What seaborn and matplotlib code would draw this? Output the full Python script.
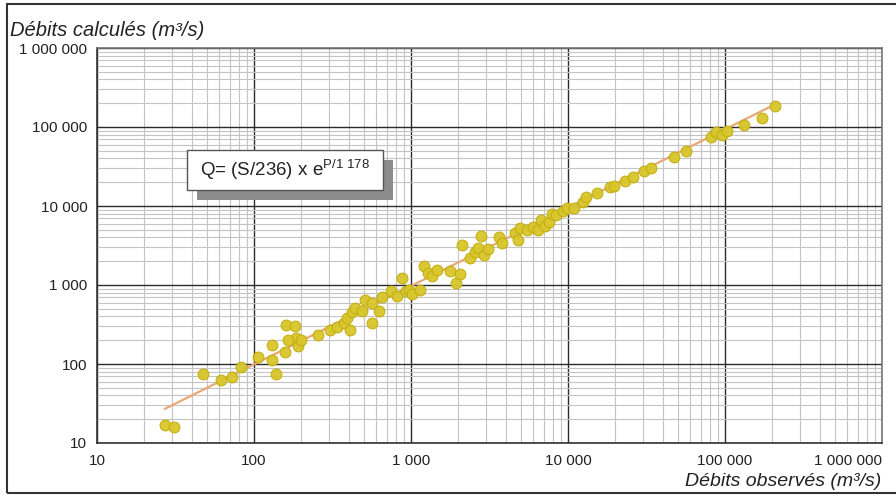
import matplotlib
matplotlib.use("Agg")
import matplotlib.pyplot as plt
from matplotlib.ticker import FixedLocator, LogLocator, NullFormatter
from matplotlib.patches import Rectangle
import seaborn as sns
import pandas as pd

observed = [27, 31, 47, 62, 72, 83, 106, 130, 138, 130, 157, 160, 182, 185, 191, 199, 165,
            256, 305, 338, 374, 391, 409, 421, 440, 487, 509, 564, 564, 654, 625, 746, 815,
            877, 929, 971, 1015, 1140, 1210, 1283, 1360, 1465, 1770, 1935, 2050, 2110, 2375,
            2555, 2670, 2795, 2920, 3095, 3635, 3800, 4600, 4800, 4950, 5480, 5990, 6440,
            6730, 7140, 7570, 7910, 8390, 9290, 9860, 10900, 12470, 13030, 15300, 18500,
            19600, 23100, 25900, 30500, 33800, 47400, 56400, 81500, 87700, 95700, 103000,
            132000, 172000, 208000]
computed = [17, 16, 75, 62, 68, 92, 123, 112, 75, 174, 142, 312, 303, 213, 169, 202, 201,
            233, 269, 294, 330, 382, 269, 455, 511, 469, 646, 591, 330, 705, 469, 840, 726,
            1227, 840, 865, 770, 865, 1740, 1420, 1300, 1550, 1500, 1060, 1380, 3200, 2200,
            2620, 2940, 4170, 2400, 2855, 4050, 3400, 4550, 3720, 5270, 4970, 5420, 4970,
            6650, 5580, 6270, 7920, 7690, 8650, 9300, 9440, 11250, 13000, 14600, 17400,
            17900, 20700, 23300, 27700, 30300, 41700, 49700, 74700, 86400, 79200, 89000,
            106000, 130000, 184000]

# Fitted relation line end points
fit_x = [27, 210000]
fit_y = [27, 195000]

tick_values = [10, 100, 1000, 10000, 100000, 1000000]
tick_labels = ["10", "100", "1 000", "10 000", "100 000", "1 000 000"]

sns.set_style("white")
plt.rcParams['font.family'] = ['Liberation Sans Narrow', 'Liberation Sans', 'DejaVu Sans']

fig = plt.figure(figsize=(8.96, 5.0), dpi=100)
ax = fig.add_axes([97/896, 57/500, 785/896, 395/500])

df = pd.DataFrame({"obs": observed, "calc": computed})
dfl = pd.DataFrame({"x": fit_x, "y": fit_y})

ax.set_xscale("log")
ax.set_yscale("log")
ax.set_xlim(10, 1000000)
ax.set_ylim(10, 1000000)

sns.lineplot(data=dfl, x="x", y="y", ax=ax, color="#e8a878", linewidth=1.6, zorder=3)
sns.scatterplot(data=df, x="obs", y="calc", ax=ax, s=60, color="#d8c62a",
                edgecolor="#c2ae10", linewidth=0.8, zorder=4, alpha=0.95)

ax.xaxis.set_major_locator(FixedLocator(tick_values))
ax.yaxis.set_major_locator(FixedLocator(tick_values))
ax.set_xticklabels(tick_labels)
ax.set_yticklabels(tick_labels)
ax.xaxis.set_minor_locator(LogLocator(base=10, subs=range(2, 10), numticks=20))
ax.yaxis.set_minor_locator(LogLocator(base=10, subs=range(2, 10), numticks=20))
ax.xaxis.set_minor_formatter(NullFormatter())
ax.yaxis.set_minor_formatter(NullFormatter())

ax.grid(True, which="major", color="#2a2a2a", linewidth=1.0, zorder=0)
ax.grid(True, which="minor", color="#c4c4c4", linewidth=0.8, zorder=0)
ax.set_axisbelow(True)

ax.tick_params(axis="both", which="major", length=5, width=1, color="#333333",
               labelsize=11, labelcolor="#222222", direction="out")
ax.tick_params(axis="both", which="minor", length=0)
ax.tick_params(axis="x", pad=3)
ax.tick_params(axis="y", pad=2)
labs = ax.get_xticklabels()
labs[-1].set_horizontalalignment("right")

for side, sp in ax.spines.items():
    sp.set_color("#333333")
    sp.set_linewidth(1.2)
ax.spines["top"].set_color("#777777")
ax.spines["right"].set_color("#777777")

ax.set_xlabel("")
ax.set_ylabel("")

fig.text(10/896, 1 - 30/500, "Débits calculés (m³/s)", fontsize=14.5, style="italic",
         color="#222222", ha="left", va="center")
fig.text(881/896, 1 - 482/500, "Débits observés (m³/s)", fontsize=14, style="italic",
         color="#222222", ha="right", va="center")

# Formula box with shadow
fig.patches.append(Rectangle((197/896, 1 - 200/500), 196/896, 40/500,
                             transform=fig.transFigure, facecolor="#8c8c8c",
                             edgecolor="none", zorder=5))
fig.patches.append(Rectangle((187/896, 1 - 190/500), 196/896, 40/500,
                             transform=fig.transFigure, facecolor="white",
                             edgecolor="#555555", linewidth=1.0, zorder=6))
fig.text(200/896, 1 - 170/500, r"Q= (S/236) x e$^{\mathregular{P/1\ 178}}$",
         fontsize=13.5, color="#222222", ha="left", va="center", zorder=7)

# Outer frame (right edge runs off the sheet)
fig.patches.append(Rectangle((7/896, 7/500), 900/896, 489/500, transform=fig.transFigure,
                             facecolor="none", edgecolor="#333333", linewidth=1.5, zorder=8))

fig.savefig("out.png", dpi=100)
